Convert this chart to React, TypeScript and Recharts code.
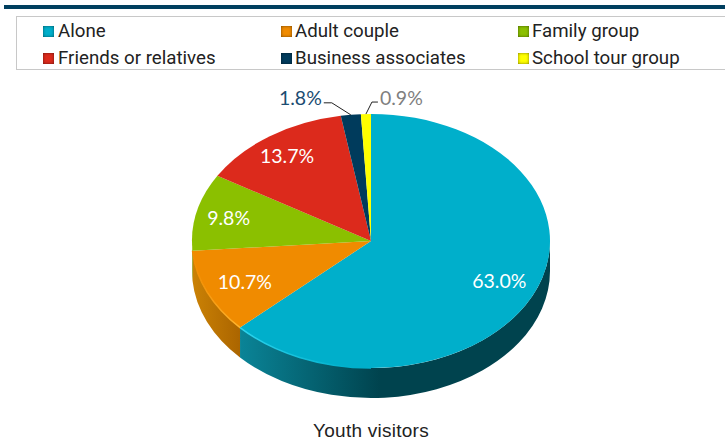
import { PieChart, Pie, Cell, Legend } from "recharts";

const categories = ["Alone", "Adult couple", "Family group", "Friends or relatives", "Business associates", "School tour group"];
const shares = [63.0, 10.7, 9.8, 13.7, 1.8, 0.9];
const colors = ["#00AFCB", "#F08B00", "#8BC000", "#DC2A1C", "#003B5C", "#FFFF00"];
const labelColors = ["#ffffff", "#ffffff", "#ffffff", "#ffffff", "#1B4D72", "#7F7F7F"];

const data = categories.map((name, i) => ({ name, value: shares[i] }));

const SQUASH = 127 / 179;
const DEPTH = 30;
const RAD = Math.PI / 180;
const LABEL_FONT = "Lato, sans-serif";
// small hand nudges for the labels inside the slices
const NUDGE_X = [-3, 5, -3, -3];
const NUDGE_Y = [-1, 0, 0, -2];

const pt = (cx: number, cy: number, r: number, deg: number) => [
  cx + r * Math.cos(deg * RAD),
  cy - r * SQUASH * Math.sin(deg * RAD),
];

// top face, a squashed sector
const TopFace = (props: any) => {
  const { cx, cy, outerRadius: r, startAngle, endAngle, fill } = props;
  const [x1, y1] = pt(cx, cy, r, startAngle);
  const [x2, y2] = pt(cx, cy, r, endAngle);
  const large = Math.abs(startAngle - endAngle) > 180 ? 1 : 0;
  const d = `M${cx},${cy}L${x1},${y1}A${r},${r * SQUASH} 0 ${large} 1 ${x2},${y2}Z`;
  return <path d={d} fill={fill} />;
};

// side wall, only the front half of the pie shows it
const SideWall = (props: any) => {
  const { cx, cy, outerRadius: r, startAngle, endAngle, index } = props;
  const from = Math.min(startAngle, 0);
  const to = Math.max(endAngle, -180);
  if (from <= to) return null;
  const [x1, y1] = pt(cx, cy, r, from);
  const [x2, y2] = pt(cx, cy, r, to);
  const rr = `${r},${r * SQUASH}`;
  const d = `M${x1},${y1}A${rr} 0 0 1 ${x2},${y2}L${x2},${y2 + DEPTH}A${rr} 0 0 0 ${x1},${y1 + DEPTH}Z`;
  return <path d={d} fill={`url(#wall${index})`} />;
};

// lighter edge on the front of the top face
const Rim = (props: any) => {
  const { cx, cy, outerRadius: r, startAngle, endAngle, index } = props;
  if (index > 1) return null;
  const from = index === 0 ? -90 : startAngle;
  const [x1, y1] = pt(cx, cy, r, from);
  const [x2, y2] = pt(cx, cy, r, endAngle);
  return (
    <path
      d={`M${x1},${y1}A${r},${r * SQUASH} 0 0 1 ${x2},${y2}`}
      fill="none"
      stroke={`url(#rim${index})`}
      strokeWidth={1.5}
    />
  );
};

const renderTop = (props: any) => (
  <g>
    <TopFace {...props} />
    <Rim {...props} />
  </g>
);

const renderLabel = (props: any) => {
  const { cx, cy, outerRadius: r, midAngle, index } = props;
  const text = `${shares[index].toFixed(1)}%`;
  const common = { fontFamily: LABEL_FONT, fontSize: 19.5, fill: labelColors[index] };
  if (index < 4) {
    const [x, y] = pt(cx, cy, r * 0.8, midAngle);
    return (
      <text
        x={x + NUDGE_X[index]}
        y={y + NUDGE_Y[index]}
        textAnchor="middle"
        dominantBaseline="central"
        {...common}
      >
        {text}
      </text>
    );
  }
  // the two thin slices get a leader line
  const [ax, ay] = pt(cx, cy, r, midAngle);
  const isNavy = index === 4;
  const bx = isNavy ? ax - 19 : ax + 6;
  const by = ay - 12;
  const ex = isNavy ? bx - 8 : bx + 6;
  return (
    <g>
      <path d={`M${ax},${ay}L${bx},${by}L${ex},${by}`} fill="none" stroke="#222" strokeWidth={1} />
      <text
        x={isNavy ? ex - 2 : ex + 2}
        y={by - 5}
        textAnchor={isNavy ? "end" : "start"}
        dominantBaseline="central"
        {...common}
      >
        {text}
      </text>
    </g>
  );
};

const LegendBox = () => (
  <div
    style={{
      width: 740,
      height: 54,
      boxSizing: "border-box",
      border: "1px solid #c8c8c8",
      borderRight: "none",
      position: "relative",
      fontFamily: "Roboto, sans-serif",
      fontSize: 18.7,
      color: "#222",
    }}
  >
    {categories.map((name, i) => (
      <div
        key={name}
        style={{
          position: "absolute",
          left: [26, 264, 501][i % 3],
          top: i < 3 ? 3 : 30,
          display: "flex",
          alignItems: "center",
          height: 22,
          whiteSpace: "nowrap",
        }}
      >
        <span
          style={{
            display: "inline-block",
            width: 11,
            height: 11,
            marginRight: i % 3 === 0 ? 4 : 3,
            backgroundColor: colors[i],
            boxShadow: "inset 0 0 3px rgba(0,0,0,0.55)",
          }}
        />
        {name}
      </div>
    ))}
  </div>
);

export default function App() {
  return (
    <div style={{ position: "absolute", left: 0, top: 0, width: 725, height: 439, overflow: "hidden", background: "#fff" }}>
      <div style={{ position: "absolute", left: 4, top: 5, width: 721, height: 4, background: "#003F5F" }} />
      <PieChart width={725} height={439} margin={{ top: 0, right: 0, bottom: 0, left: 0 }}>
        <defs>
          <linearGradient id="wall0" gradientUnits="userSpaceOnUse" x1="240" y1="0" x2="380" y2="0">
            <stop offset="0" stopColor="#0A8497" />
            <stop offset="1" stopColor="#00434E" />
          </linearGradient>
          <linearGradient id="wall1" gradientUnits="userSpaceOnUse" x1="192" y1="0" x2="240" y2="0">
            <stop offset="0" stopColor="#CB8205" />
            <stop offset="1" stopColor="#AB6500" />
          </linearGradient>
          <linearGradient id="wall2" gradientUnits="userSpaceOnUse" x1="190" y1="0" x2="196" y2="0">
            <stop offset="0" stopColor="#6E9500" />
            <stop offset="1" stopColor="#6E9500" />
          </linearGradient>
          <linearGradient id="rim0" gradientUnits="userSpaceOnUse" x1="240" y1="0" x2="350" y2="0">
            <stop offset="0" stopColor="#2CD4EE" />
            <stop offset="1" stopColor="#00AFCB" />
          </linearGradient>
          <linearGradient id="rim1" gradientUnits="userSpaceOnUse" x1="192" y1="0" x2="240" y2="0">
            <stop offset="0" stopColor="#F08B00" />
            <stop offset="1" stopColor="#FFB52E" />
          </linearGradient>
        </defs>
        <Legend
          content={<LegendBox />}
          wrapperStyle={{ position: "absolute", left: 16, top: 16, width: 740, height: 54 }}
        />
        <Pie
          data={data}
          dataKey="value"
          cx={371}
          cy={241}
          outerRadius={179}
          startAngle={90}
          endAngle={-270}
          stroke="none"
          isAnimationActive={false}
          legendType="none"
          shape={SideWall}
        />
        <Pie
          data={data}
          dataKey="value"
          cx={371}
          cy={241}
          outerRadius={179}
          startAngle={90}
          endAngle={-270}
          stroke="none"
          isAnimationActive={false}
          shape={renderTop}
          label={renderLabel}
          labelLine={false}
        >
          {data.map((d, i) => (
            <Cell key={d.name} fill={colors[i]} />
          ))}
        </Pie>
      </PieChart>
      <div
        style={{
          position: "absolute",
          left: 271,
          width: 200,
          top: 422,
          lineHeight: "17px",
          height: 17,
          textAlign: "center",
          fontFamily: "'Liberation Sans', sans-serif",
          fontSize: 19,
          letterSpacing: 0.25,
          color: "#222",
        }}
      >
        Youth visitors
      </div>
    </div>
  );
}
